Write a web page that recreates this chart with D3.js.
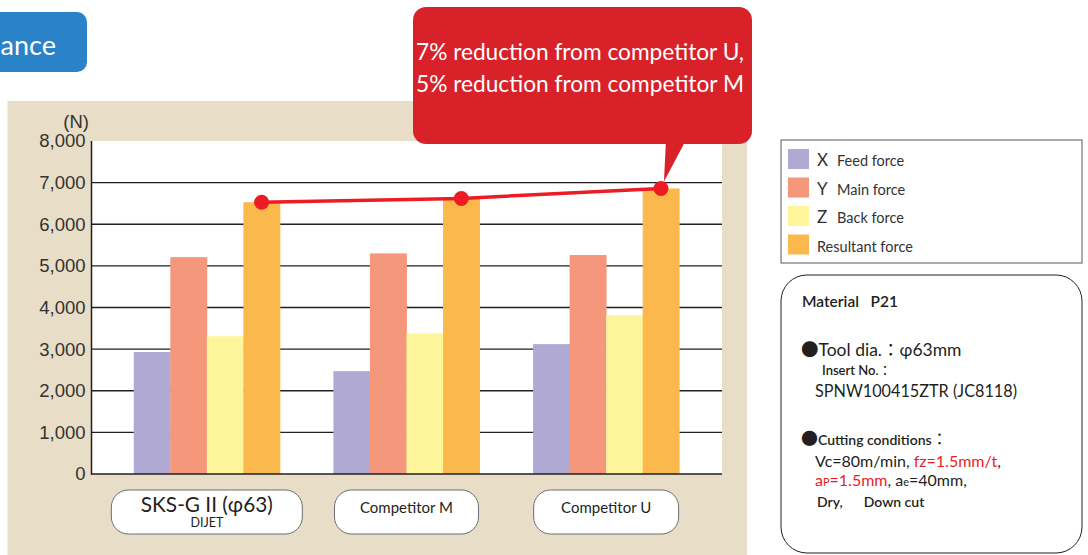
<!DOCTYPE html>
<html>
<head>
<meta charset="utf-8">
<script src="https://cdn.jsdelivr.net/npm/d3@7"></script>
<style>
  html, body { margin: 0; padding: 0; background: #ffffff; }
  svg { display: block; }
</style>
</head>
<body>
<svg id="chart" width="1088" height="555"></svg>
<script>
// ---------------- DATA ----------------
const categories = ["SKS-G II (φ63)", "Competitor M", "Competitor U"];
const categorySubLabels = ["DIJET", "", ""];
const seriesNames = ["X", "Y", "Z", "Resultant"];
const seriesLabels = ["Feed force", "Main force", "Back force", "Resultant force"];
const feedForce = [2930, 2470, 3120];
const mainForce = [5210, 5300, 5260];
const backForce = [3310, 3380, 3820];
const resultantForce = [6530, 6620, 6860];
const yTicks = [0, 1000, 2000, 3000, 4000, 5000, 6000, 7000, 8000];
const yUnit = "(N)";
const calloutLines = ["7% reduction from competitor U,", "5% reduction from competitor M"];
const tabTitle = "ance";

// ---------------- STYLE ----------------
const colors = ["#afa9d3", "#f5977b", "#fef59b", "#fbb84c"];
const beige = "#e8ddc6";
const lineRed = "#ed1c24";
const calloutRed = "#d92129";
const myriad = "Lato, 'Open Sans', sans-serif";
const arial = "'Liberation Sans', Arial, sans-serif";
const cjk = "'Noto Sans CJK JP', sans-serif";

const svg = d3.select("#chart");

// title tab
svg.append("rect").attr("x", -30).attr("y", 12).attr("width", 117).attr("height", 60)
  .attr("rx", 10).attr("fill", "#2a82c9");
svg.append("text").attr("x", 56).attr("y", 55).attr("text-anchor", "end")
  .attr("font-family", myriad).attr("font-size", 27).attr("fill", "#fff").text(tabTitle);

// beige panel
svg.append("rect").attr("x", 7.5).attr("y", 101).attr("width", 739.5).attr("height", 460).attr("fill", beige);

// plot area
const plot = { left: 91.5, right: 722, top: 141, bottom: 474 };
svg.append("rect").attr("x", plot.left).attr("y", plot.top)
  .attr("width", plot.right - plot.left).attr("height", plot.bottom - plot.top).attr("fill", "#fff");

const y = d3.scaleLinear().domain([0, 8000]).range([plot.bottom, plot.top]);
const x = d3.scaleBand().domain(categories).range([107, 706]).paddingInner(0.268).paddingOuter(0.134);
const xs = d3.scaleBand().domain(seriesNames).range([0, x.bandwidth()]);

// grid lines
svg.append("g").selectAll("line").data(yTicks.filter(t => t > 0 && t < 8000)).join("line")
  .attr("x1", plot.left).attr("x2", plot.right)
  .attr("y1", d => y(d)).attr("y2", d => y(d))
  .attr("stroke", "#231f20").attr("stroke-width", 1.3);

// y axis
const yAxis = d3.axisLeft(y).tickValues(yTicks).tickSize(0).tickPadding(6)
  .tickFormat(d3.format(","));
const ya = svg.append("g").attr("transform", `translate(${plot.left},0)`).call(yAxis);
ya.select(".domain").remove();
ya.selectAll("text").attr("font-family", arial).attr("font-size", 18.5).attr("fill", "#333");
svg.append("text").attr("x", 89).attr("y", 128).attr("text-anchor", "end")
  .attr("font-family", arial).attr("font-size", 18.5).attr("fill", "#333").text(yUnit);

// bars
const rows = categories.map((c, i) => ({
  cat: c,
  values: [feedForce[i], mainForce[i], backForce[i], resultantForce[i]]
}));
const groups = svg.append("g").selectAll("g").data(rows).join("g")
  .attr("transform", d => `translate(${x(d.cat)},0)`);
groups.selectAll("rect").data(d => d.values.map((v, k) => ({ v, k }))).join("rect")
  .attr("x", d => xs(seriesNames[d.k]))
  .attr("width", xs.bandwidth() + 0.4)
  .attr("y", d => y(d.v))
  .attr("height", d => y(0) - y(d.v))
  .attr("fill", d => colors[d.k]);

// axes lines
svg.append("line").attr("x1", plot.left).attr("x2", plot.left).attr("y1", plot.top).attr("y2", plot.bottom + 0.7)
  .attr("stroke", "#231f20").attr("stroke-width", 1.5);
svg.append("line").attr("x1", plot.left).attr("x2", plot.right).attr("y1", plot.bottom).attr("y2", plot.bottom)
  .attr("stroke", "#231f20").attr("stroke-width", 1.5);

// resultant line + dots
const px = c => x(c) + xs("Resultant") + xs.bandwidth() / 2;
const pts = categories.map((c, i) => [px(c), y(resultantForce[i])]);
svg.append("path").attr("d", d3.line()(pts)).attr("fill", "none")
  .attr("stroke", lineRed).attr("stroke-width", 3.5);
svg.append("g").selectAll("circle").data(pts).join("circle")
  .attr("cx", d => d[0]).attr("cy", d => d[1]).attr("r", 7.5).attr("fill", lineRed);

// category label boxes
const boxW = [191, 144, 145];
categories.forEach((c, i) => {
  const cx = x(c) + x.bandwidth() / 2;
  svg.append("rect").attr("x", cx - boxW[i] / 2).attr("y", 490).attr("width", boxW[i]).attr("height", 44)
    .attr("rx", 17).attr("fill", "#fff").attr("stroke", "#6d6e71").attr("stroke-width", 1);
  if (i === 0) {
    svg.append("text").attr("x", cx).attr("y", 512).attr("text-anchor", "middle")
      .attr("font-family", myriad).attr("font-size", 21).attr("fill", "#231f20")
      .attr("textLength", 132).attr("lengthAdjust", "spacingAndGlyphs").text(c);
    svg.append("text").attr("x", cx).attr("y", 527).attr("text-anchor", "middle")
      .attr("font-family", myriad).attr("font-size", 12.5).attr("fill", "#231f20").text(categorySubLabels[i]);
  } else {
    svg.append("text").attr("x", cx).attr("y", 513).attr("text-anchor", "middle")
      .attr("font-family", myriad).attr("font-size", 15).attr("fill", "#231f20").text(c);
  }
});

// callout
const lastPt = pts[pts.length - 1];
svg.append("path")
  .attr("d", `M${lastPt[0] + 3},${lastPt[1] - 7} L${lastPt[0] + 5},140 L${lastPt[0] + 25},140 Z`)
  .attr("fill", calloutRed);
svg.append("rect").attr("x", 413).attr("y", 7).attr("width", 339).attr("height", 137)
  .attr("rx", 13).attr("fill", calloutRed);
calloutLines.forEach((t, i) => {
  svg.append("text").attr("x", 580).attr("y", 60 + i * 32).attr("text-anchor", "middle")
    .attr("font-family", myriad).attr("font-size", 24).attr("fill", "#fff")
    .attr("textLength", 328).attr("lengthAdjust", "spacingAndGlyphs").text(t);
});

// legend
svg.append("rect").attr("x", 781).attr("y", 140).attr("width", 301).attr("height", 123)
  .attr("fill", "#fff").attr("stroke", "#58595b").attr("stroke-width", 1);
const lg = svg.append("g").selectAll("g").data(seriesNames).join("g")
  .attr("transform", (d, i) => `translate(788,${149 + i * 28.5})`);
lg.append("rect").attr("width", 21).attr("height", 20).attr("fill", (d, i) => colors[i]);
lg.each(function (d, i) {
  const g = d3.select(this);
  if (i < 3) {
    g.append("text").attr("x", 29).attr("y", 17).attr("font-family", myriad).attr("font-size", 17)
      .attr("fill", "#333").text(d);
    g.append("text").attr("x", 49).attr("y", 17).attr("font-family", myriad).attr("font-size", 14.5)
      .attr("fill", "#333").text(seriesLabels[i]);
  } else {
    g.append("text").attr("x", 29).attr("y", 17).attr("font-family", myriad).attr("font-size", 14.5)
      .attr("fill", "#333").text(seriesLabels[i]);
  }
});

// info box
svg.append("rect").attr("x", 781).attr("y", 275).attr("width", 301).attr("height", 278)
  .attr("rx", 26).attr("fill", "#fff").attr("stroke", "#231f20").attr("stroke-width", 1);
const info = svg.append("g").attr("font-family", myriad).attr("fill", "#231f20");
info.append("text").attr("x", 802).attr("y", 307).attr("font-size", 15.5).attr("font-weight", 600)
  .text("Material\u2003P21");
const td = info.append("text").attr("x", 801).attr("y", 356).attr("font-size", 17.5);
td.append("tspan").attr("font-family", cjk).text("●");
td.append("tspan").text("Tool dia.");
td.append("tspan").attr("font-family", cjk).text("：");
td.append("tspan").text("φ63mm");
const ins = info.append("text").attr("x", 822).attr("y", 375).attr("font-size", 13).attr("font-weight", 600);
ins.append("tspan").text("Insert No.");
ins.append("tspan").attr("font-family", cjk).attr("font-weight", 400).text("：");
info.append("text").attr("x", 815).attr("y", 397).attr("font-size", 17)
  .attr("textLength", 202).attr("lengthAdjust", "spacingAndGlyphs").text("SPNW100415ZTR (JC8118)");
const cc = info.append("text").attr("x", 801).attr("y", 445).attr("font-size", 14).attr("font-weight", 600);
cc.append("tspan").attr("font-family", cjk).attr("font-weight", 400).attr("font-size", 17).text("●");
cc.append("tspan").text("Cutting conditions");
cc.append("tspan").attr("font-family", cjk).attr("font-weight", 400).attr("font-size", 16).text("：");
const l1 = info.append("text").attr("x", 815).attr("y", 467).attr("font-size", 16);
l1.append("tspan").text("Vc=80m/min, ");
l1.append("tspan").attr("fill", "#ed1c24").text("fz=1.5mm/t");
l1.append("tspan").text(",");
const l2 = info.append("text").attr("x", 815).attr("y", 486).attr("font-size", 16);
l2.append("tspan").attr("fill", "#ed1c24").text("a");
l2.append("tspan").attr("fill", "#ed1c24").attr("font-size", 11).text("P");
l2.append("tspan").attr("fill", "#ed1c24").text("=1.5mm");
l2.append("tspan").text(", a");
l2.append("tspan").attr("font-size", 11).text("e");
l2.append("tspan").text("=40mm,");
info.append("text").attr("x", 817).attr("y", 507).attr("font-size", 14).attr("font-weight", 600)
  .text("Dry,\u2003\u2003Down cut");
</script>
</body>
</html>
